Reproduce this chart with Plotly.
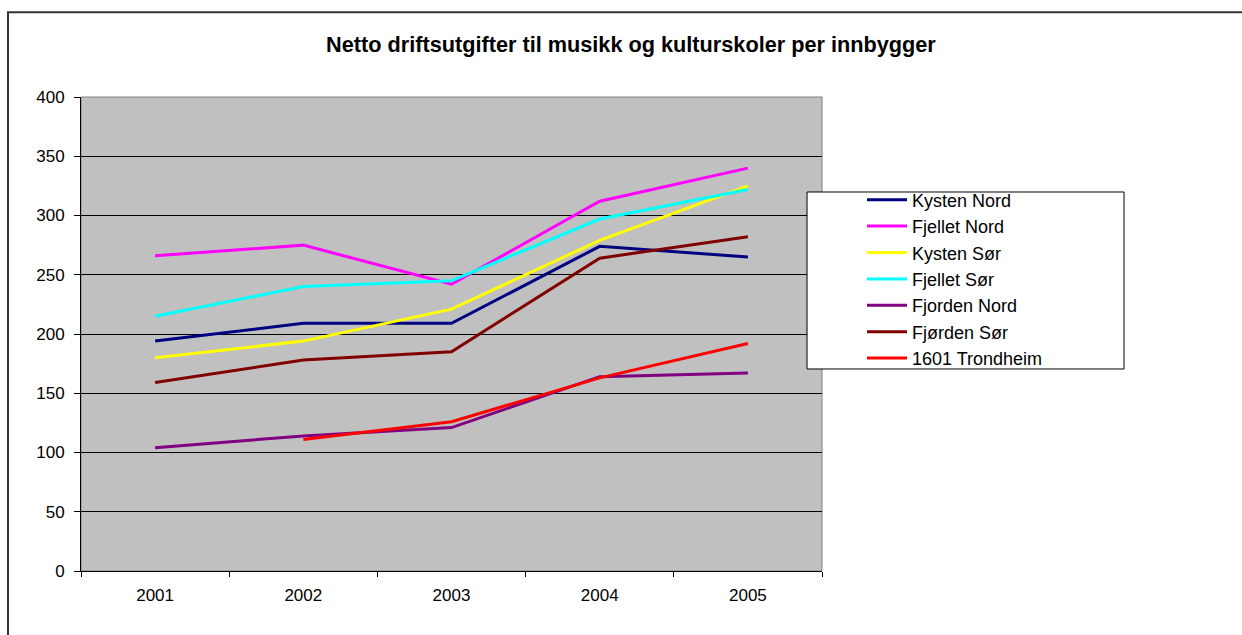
import plotly.graph_objects as go

years = ["2001", "2002", "2003", "2004", "2005"]

kysten_nord = [194, 209, 209, 274, 265]
fjellet_nord = [266, 275, 242, 312, 340]
kysten_sor = [180, 194, 221, 279, 325]
fjellet_sor = [215, 240, 245, 297, 322]
fjorden_nord = [104, 114, 121, 164, 167]
fjorden_sor = [159, 178, 185, 264, 282]
trondheim = [None, 111, 126, 163, 192]

series = [
    ("Kysten Nord", kysten_nord, "#000080"),
    ("Fjellet Nord", fjellet_nord, "#FF00FF"),
    ("Kysten Sør", kysten_sor, "#FFFF00"),
    ("Fjellet Sør", fjellet_sor, "#00FFFF"),
    ("Fjorden Nord", fjorden_nord, "#800080"),
    ("Fjørden Sør", fjorden_sor, "#800000"),
    ("1601 Trondheim", trondheim, "#FF0000"),
]

FONT = "Arial, Liberation Sans, sans-serif"

fig = go.Figure()
for name, vals, color in series:
    fig.add_trace(go.Scatter(
        x=years, y=vals, name=name, mode="lines",
        line=dict(color=color, width=3),
        connectgaps=False,
    ))

# plot-area frame (grey), outer chart frame, and white legend box
fig.add_shape(type="rect", xref="paper", yref="paper", x0=0, x1=1, y0=0, y1=1,
              line=dict(color="#808080", width=1), layer="between")
fig.add_shape(type="rect", xref="paper", yref="paper",
              x0=-0.0985, x1=1.575, y0=-0.15, y1=1.179,
              line=dict(color="#333333", width=2), layer="below")
fig.add_shape(type="rect", xref="paper", yref="paper",
              x0=0.9798, x1=1.4076, y0=0.4262, y1=0.7996,
              line=dict(color="#000000", width=1), fillcolor="white", layer="above")

fig.update_layout(
    width=1242, height=635,
    margin=dict(l=81, r=420, t=97, b=64),
    paper_bgcolor="white",
    plot_bgcolor="#C0C0C0",
    font=dict(family=FONT, color="black"),
    title=dict(
        text="<b>Netto driftsutgifter til musikk og kulturskoler per innbygger</b>",
        x=0.508, xref="container", xanchor="center",
        y=1 - 44 / 635, yref="container", yanchor="middle",
        font=dict(family=FONT, size=21.7, color="black"),
    ),
    showlegend=True,
    legend=dict(
        x=1.054, y=0.8217, xanchor="left", yanchor="top",
        bgcolor="rgba(0,0,0,0)", borderwidth=0,
        font=dict(family=FONT, size=18, color="black"),
        itemwidth=40,
    ),
    xaxis=dict(
        type="category", range=[-0.5, 4.5],
        tickson="boundaries", ticks="outside", ticklen=5, tickcolor="black",
        showline=True, linecolor="black", linewidth=1,
        showgrid=False, zeroline=False,
        tickfont=dict(family=FONT, size=17, color="black"),
        ticklabelstandoff=9,
    ),
    yaxis=dict(
        range=[0, 400], dtick=50, tick0=0,
        ticks="outside", ticklen=6, tickcolor="black",
        showline=True, linecolor="black", linewidth=1,
        showgrid=True, gridcolor="#000000", gridwidth=1,
        zeroline=False,
        tickfont=dict(family=FONT, size=17, color="black"),
        ticklabelstandoff=6,
    ),
)

fig.write_html("out.html")
